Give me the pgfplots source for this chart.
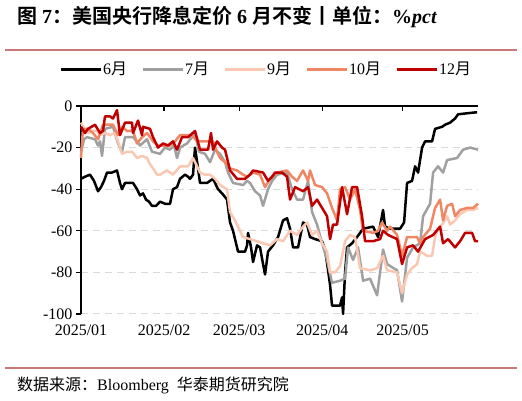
\documentclass[border=0pt]{standalone}
\usepackage{pgfplots}
\pgfplotsset{compat=1.18}
\usepackage{pgfplotstable}
\usepackage{fontspec}
\setmainfont{Liberation Serif}
\newfontfamily\cjk{Noto Sans CJK SC}[BoldFont={Noto Sans CJK SC Bold}]
\definecolor{cJun}{RGB}{0,0,0}
\definecolor{cJul}{RGB}{160,160,160}
\definecolor{cSep}{RGB}{250,200,178}
\definecolor{cOct}{RGB}{240,135,100}
\definecolor{cDec}{RGB}{192,0,0}
\definecolor{rule}{RGB}{200,120,120}

% x = horizontal position (pixel), converted to days since 2025-01-01 by the axis
\pgfplotstableread{
x y
81 -35
85 -34
90 -33
94 -36
98 -41
101 -39
104 -36
107 -32
112 -32
117 -31
120 -37
122 -40
125 -37
133 -37
137 -40
140 -43
143 -42
146 -45
149 -46
152 -48
156 -48
160 -46
165 -47
170 -47
173 -40
177 -39
180 -35
185 -33
188 -34
190 -35
193 -33
195 -20
198 -30
200 -37
207 -37
213 -35
218 -40
222 -42
227 -45
230 -56
233 -60
238 -70
245 -70
247 -67
248 -61
251 -68
253 -75
257 -67
260 -68
263 -76
265 -81
268 -70
273 -67
278 -63
283 -55
287 -54
290 -59
293 -68
298 -68
303 -56
307 -57
310 -63
315 -64
322 -65
325 -69
328 -79
330 -86
332 -96
340 -96
342 -92
343 -100
345 -80
347 -68
352 -66
357 -63
363 -59
373 -58
378 -63
383 -50
385 -58
390 -59
400 -59
404 -56
407 -37
412 -36
415 -29
418 -32
422 -20
425 -17
432 -17
435 -11
442 -10
445 -9
450 -8
455 -6
458 -4
467 -3.5
477 -3
}\tJun

\pgfplotstableread{
x y
81 -22
84 -16
87 -15
95 -16
98 -19
100 -17
102 -24
105 -11
113 -10
118 -18
120 -20
122 -22
125 -15
133 -15
137 -17
140 -19
147 -16
152 -22
160 -23
165 -20
170 -21
174 -19
177 -25
180 -20
187 -18
192 -15
195 -13
199 -22
205 -23
210 -27
215 -21
220 -23
225 -27
228 -32
233 -37
243 -38
247 -36
250 -37
255 -41
260 -43
263 -48
268 -40
272 -36
277 -33
287 -32
292 -40
297 -45
303 -45
308 -36
312 -51
317 -57
322 -66
327 -74
332 -85
340 -84
345 -83
348 -68
353 -74
358 -68
363 -84
370 -83
377 -91
383 -69
387 -76
397 -79
402 -94
407 -73
413 -68
420 -66
423 -53
430 -47
433 -32
438 -29
443 -32
447 -26
457 -25
463 -21
470 -20
478 -21
}\tJul

\pgfplotstableread{
x y
81 -8
84 -11
88 -13
92 -12
97 -12
100 -14
105 -13
110 -14
115 -13
118 -17
122 -23
127 -22
132 -22
137 -25
142 -24
147 -25
150 -28
153 -30
157 -33
160 -33
167 -31
173 -33
180 -29
188 -29
193 -25
197 -29
200 -32
205 -33
210 -33
215 -35
220 -38
227 -40
230 -51
235 -55
240 -60
243 -63
250 -64
257 -65
263 -66
270 -67
277 -64
283 -65
290 -60
297 -62
303 -58
307 -56
312 -62
317 -60
322 -66
327 -70
330 -80
335 -80
340 -77
345 -65
350 -62
355 -63
360 -78
370 -79
377 -78
383 -72
387 -79
397 -80
402 -90
407 -81
412 -78
417 -76
420 -70
427 -72
432 -72
435 -63
438 -59
442 -57
447 -53
450 -57
455 -55
460 -52
467 -50
473 -50
478 -49
}\tSep

\pgfplotstableread{
x y
81 -25
83 -11
88 -11
93 -13
98 -16
103 -9
113 -9
118 -14
122 -10
127 -12
133 -12
137 -18
142 -15
147 -13
153 -17
158 -19
170 -19
175 -17
180 -14
192 -14
197 -17
213 -17
217 -22
220 -25
225 -27
230 -30
237 -31
243 -33
247 -34
253 -32
260 -33
265 -39
270 -35
277 -32
287 -31
292 -34
297 -36
303 -31
308 -36
310 -31
315 -38
322 -39
327 -42
332 -49
337 -55
340 -40
345 -39
350 -45
355 -40
360 -50
363 -60
373 -61
378 -60
382 -56
387 -60
390 -58
397 -62
402 -72
407 -63
417 -63
420 -66
423 -63
430 -59
435 -49
440 -45
443 -55
447 -48
452 -47
455 -53
460 -50
467 -49
473 -49
478 -47
}\tOct

\pgfplotstableread{
x y
81 -10
85 -13
88 -11
95 -9
100 -13
103 -12
105 -5
110 -5
113 -6
117 -2
120 -14
125 -8
132 -8
133 -13
138 -7
142 -14
143 -10
150 -11
153 -15
158 -20
163 -18
168 -19
173 -17
177 -21
182 -15
188 -15
195 -12
200 -21
208 -21
211 -13
213 -21
217 -17
222 -20
225 -21
230 -31
237 -35
245 -35
250 -33
253 -31
263 -32
268 -36
272 -34
275 -32
282 -32
287 -34
290 -45
295 -39
303 -41
308 -39
312 -48
317 -45
322 -49
327 -53
330 -64
333 -57
337 -57
342 -39
347 -52
352 -39
357 -39
362 -53
365 -65
373 -65
380 -64
383 -60
388 -62
397 -64
402 -76
407 -68
413 -67
418 -70
425 -64
433 -62
440 -58
443 -66
448 -64
455 -68
460 -65
465 -61
472 -61
475 -65
478 -65
}\tDec

\begin{document}
\begin{tikzpicture}
\path[use as bounding box] (0pt,0pt) rectangle (522pt,401pt);
% title
\node[anchor=base west, inner sep=0pt, font=\fontsize{20}{23}\selectfont\bfseries] at (17pt,377pt)
  {{\cjk 图} 7{\cjk ：美国央行降息定价} 6 {\cjk 月不变丨单位：}\%\textit{pct}};
\draw[rule, line width=2pt] (5pt,351pt) -- (517pt,351pt);
\draw[rule, line width=2pt] (5pt,33pt) -- (517pt,33pt);
\node[anchor=base west, inner sep=0pt, font=\fontsize{16}{18}\selectfont] at (17pt,10pt)
  {{\cjk 数据来源：}Bloomberg\ \ {\cjk 华泰期货研究院}};

\begin{axis}[
  at={(81pt,87pt)}, anchor=south west,
  scale only axis, width=397pt, height=208pt,
  xmin=0, xmax=148.1, ymin=-100, ymax=0,
  x filter/.expression={(x-81)/2.68},
  axis lines=left,
  axis line style={-, line width=1.2pt},
  x axis line style={draw=none},
  xtick={0,31,59,90,120},
  xticklabels={2025/01,2025/02,2025/03,2025/04,2025/05},
  xtick style={draw=none},
  ytick={-100,-80,...,0},
  ytick style={black, line width=1.2pt},
  tick align=outside,
  major tick length=5pt,
  ymajorgrids,
  grid style={line width=1pt, color=black!15, dash pattern=on 7pt off 5pt},
  tick label style={font=\fontsize{16}{18}\selectfont},
  /pgf/number format/assume math mode=true,
  xticklabel style={yshift=-2pt},
  legend columns=5,
  legend style={draw=none, fill=none, at={(axis description cs:-0.0554,1.1765)}, anchor=west,
    font=\fontsize{16}{18}\selectfont, inner sep=0pt, nodes={inner sep=0pt},
    /tikz/every odd column/.append style={column sep=1pt},
    /tikz/every even column/.append style={column sep=14pt}},
  legend image code/.code={\draw[#1, line width=3pt] (0pt,0pt) -- (40pt,0pt);},
  every axis plot/.append style={line width=2.5pt, line join=round},
  clip=false,
]
\addplot[cJun, no marks] table[x=x,y=y] {\tJun};
\addlegendentry{6{\cjk 月}}
\addplot[cJul, no marks] table[x=x,y=y] {\tJul};
\addlegendentry{7{\cjk 月}}
\addplot[cSep, no marks] table[x=x,y=y] {\tSep};
\addlegendentry{9{\cjk 月}}
\addplot[cOct, no marks] table[x=x,y=y] {\tOct};
\addlegendentry{10{\cjk 月}}
\addplot[cDec, no marks] table[x=x,y=y] {\tDec};
\addlegendentry{12{\cjk 月}}
\draw[line width=1.2pt] (rel axis cs:0,1) -- (rel axis cs:1,1);
\draw[line width=1.2pt] (rel axis cs:0.2093,1) -- ([yshift=-5pt]rel axis cs:0.2093,1);
\draw[line width=1.2pt] (rel axis cs:0.3984,1) -- ([yshift=-5pt]rel axis cs:0.3984,1);
\draw[line width=1.2pt] (rel axis cs:0.6077,1) -- ([yshift=-5pt]rel axis cs:0.6077,1);
\draw[line width=1.2pt] (rel axis cs:0.8103,1) -- ([yshift=-5pt]rel axis cs:0.8103,1);
\end{axis}
\end{tikzpicture}
\end{document}
